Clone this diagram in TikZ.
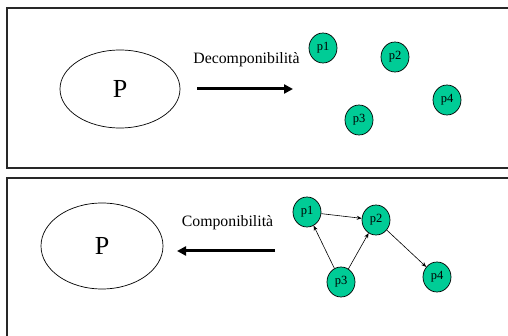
\documentclass[tikz,border=0pt]{standalone}
\usepackage{fontspec}
\setmainfont{Liberation Serif}
\usetikzlibrary{shapes.geometric,arrows.meta}
\definecolor{procgreen}{RGB}{0,204,150}
\definecolor{framegray}{RGB}{40,40,40}
\tikzset{
  frame/.style={draw=framegray,line width=1.3pt},
  whole/.style={draw,ellipse,line width=0.7pt,inner sep=0pt,font=\fontsize{26}{28}\selectfont},
  proc/.style={draw,ellipse,fill=procgreen,line width=0.7pt,minimum width=28pt,minimum height=30pt,inner sep=0pt,font=\fontsize{12.5}{13}\selectfont},
  bigarrow/.style={line width=3pt,-{Triangle[length=9pt,width=9pt]}},
  link/.style={line width=0.6pt,-{Stealth[length=5pt,width=4pt]}},
  lbl/.style={font=\fontsize{15.8}{17}\selectfont,inner sep=0pt}
}
\begin{document}
\begin{tikzpicture}[x=1pt,y=-1pt]
\useasboundingbox (0,0) rectangle (508,336);
\fill[white] (0,0) rectangle (508,336);
% frames
\draw[frame] (520,8) -- (7,8) -- (7,168) -- (520,168);
\draw[frame] (520,178) -- (7,178) -- (7,345);
% top panel
\node[whole,minimum width=120pt,minimum height=78pt] (Pa) at (120,89) {P};
\coordinate (a1) at (197,89);
\coordinate (a2) at (293,89);
\draw[bigarrow] (a1) -- (a2);
\node[lbl,anchor=base] (dec) at (246.5,64) {Decomponibilità};
\node[proc] (ta) at (323,48) {p1};
\node[proc] (tb) at (395,57) {p2};
\node[proc] (tc) at (359,120) {p3};
\node[proc] (td) at (447,100) {p4};
% bottom panel
\node[whole,minimum width=122pt,minimum height=86pt] (Pb) at (102,246) {P};
\coordinate (b1) at (275,251);
\coordinate (b2) at (177,251);
\draw[bigarrow] (b1) -- (b2);
\node[lbl,anchor=base] (com) at (227.5,227) {Componibilità};
\node[proc] (ba) at (307,212) {p1};
\node[proc] (bb) at (376,220) {p2};
\node[proc] (bc) at (341,282) {p3};
\node[proc] (bd) at (437,277) {p4};
\draw[link] (ba) -- (bb);
\draw[link] (bc) -- (ba);
\draw[link] (bc) -- (bb);
\draw[link] (bb) -- (bd);
\end{tikzpicture}
\end{document}
